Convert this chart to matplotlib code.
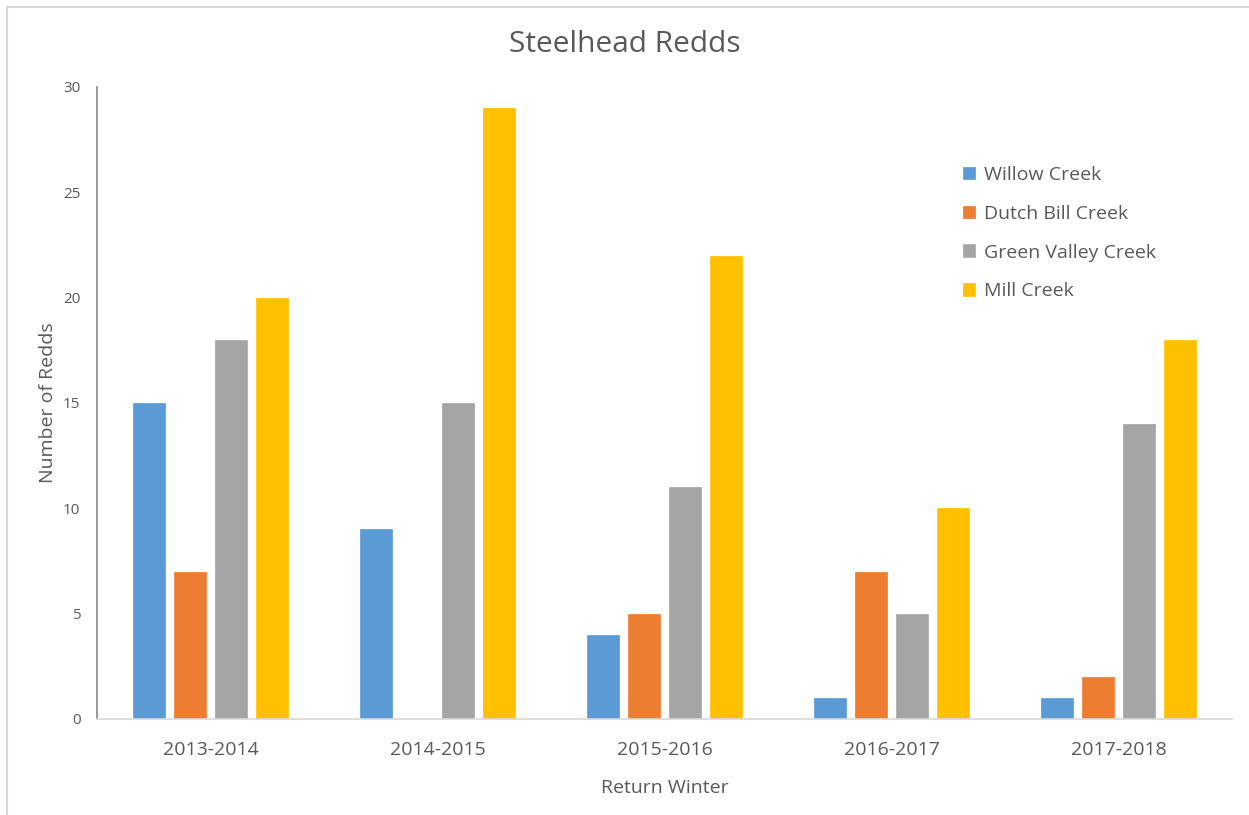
import matplotlib.pyplot as plt
import numpy as np
from matplotlib.patches import Rectangle

plt.rcParams['font.family'] = ['Open Sans', 'DejaVu Sans']

winters = ["2013-2014", "2014-2015", "2015-2016", "2016-2017", "2017-2018"]
willow = [15, 9, 4, 1, 1]
dutch_bill = [7, 0, 5, 7, 2]
green_valley = [18, 15, 11, 5, 14]
mill = [20, 29, 22, 10, 18]

series = [("Willow Creek", willow, "#5B9BD5"),
          ("Dutch Bill Creek", dutch_bill, "#ED7D31"),
          ("Green Valley Creek", green_valley, "#A5A5A5"),
          ("Mill Creek", mill, "#FFC000")]

fig = plt.figure(figsize=(12.49, 8.15), dpi=100)
ax = fig.add_axes([0.0777, 0.1178, 0.9087, 0.7755])

# light frame around the chart area, like the Excel export
fig.patches.append(Rectangle((7 / 1249, -0.01), 1.02, 1 - 7 / 815 + 0.01,
                             transform=fig.transFigure, fill=False,
                             edgecolor="#D9D9D9", linewidth=1.5))

x = np.arange(len(winters))
width = 0.141
step = 0.1815
for i, (name, vals, col) in enumerate(series):
    ax.bar(x + (i - 1.5) * step, vals, width, color=col, label=name,
           edgecolor=col, linewidth=0.5)

ax.set_xlim(-0.5, 4.5)
ax.set_ylim(0, 30)
ax.set_yticks(range(0, 31, 5))
ax.set_xticks(x)
ax.set_xticklabels(winters)
ax.tick_params(axis="x", length=0, labelsize=14, labelcolor="#595959", pad=16)
ax.tick_params(axis="y", length=0, labelsize=11, labelcolor="#595959", pad=12)

for s in ["top", "right"]:
    ax.spines[s].set_visible(False)
ax.spines["left"].set_color("#868686")
ax.spines["left"].set_linewidth(1.2)
ax.spines["bottom"].set_color("#D9D9D9")
ax.spines["bottom"].set_linewidth(1.2)

ax.set_xlabel("Return Winter", fontsize=14, color="#595959", labelpad=14)
ax.set_ylabel("Number of Redds", fontsize=14, color="#595959", labelpad=4)
fig.text(0.5, 1 - 44 / 815, "Steelhead Redds", ha="center", va="center",
         fontsize=21.5, color="#595959")

ax.legend(loc="upper left", bbox_to_anchor=(0.7477, 0.9027), frameon=False,
          fontsize=14, labelcolor="#595959", handlelength=0.62, handleheight=0.62,
          handletextpad=0.45, labelspacing=1.07)

fig.savefig("out.png", dpi=100)
